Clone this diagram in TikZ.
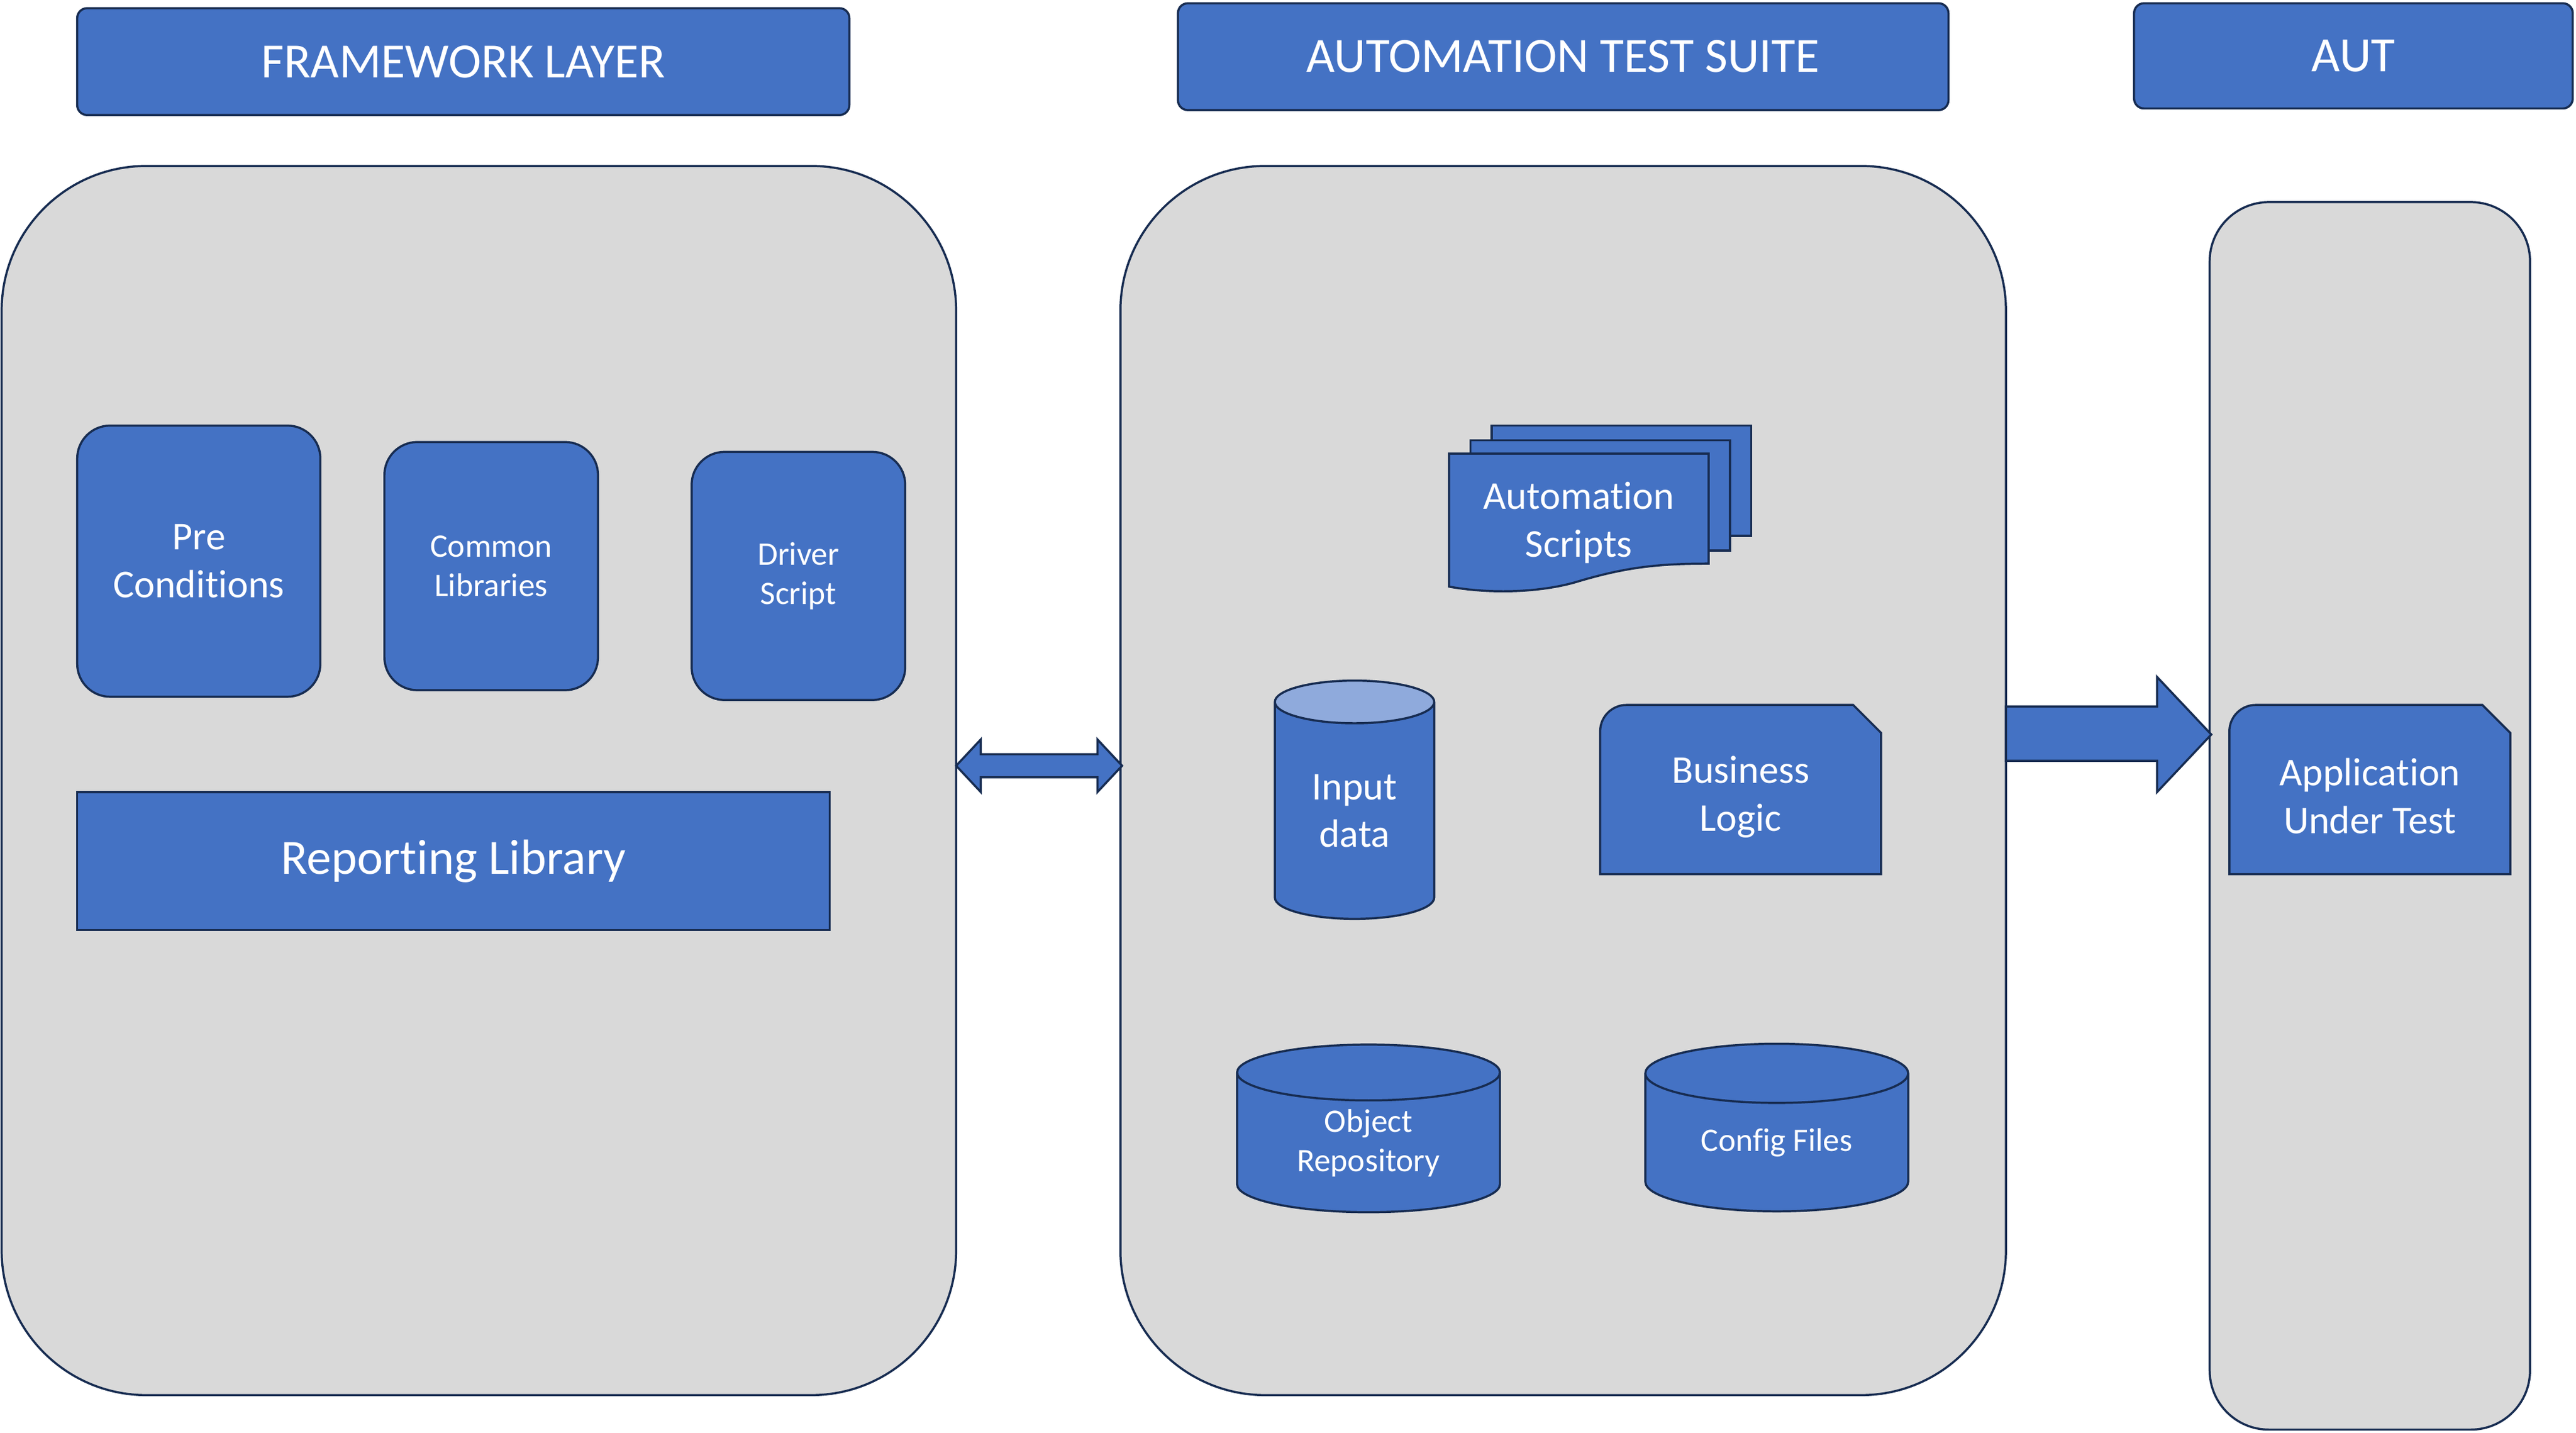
\documentclass[tikz,border=0pt]{standalone}
\usepackage{fontspec}
\setmainfont{Carlito}[Ligatures=NoCommon]
\usepackage{xcolor}
\usetikzlibrary{shapes.geometric}
\definecolor{accent}{HTML}{4472C4}
\definecolor{navy}{HTML}{172C51}
\definecolor{panelgray}{HTML}{D9D9D9}
\definecolor{accentlight}{HTML}{8FAADC}

\begin{document}
\begin{tikzpicture}[x=1pt,y=-1pt,
title/.style={draw=navy,fill=accent,line width=1.3pt,rounded corners=6pt,text=white,font=\fontsize{30}{36}\selectfont},
panel/.style={draw=navy,fill=panelgray,line width=1.3pt},
block/.style={draw=navy,fill=accent,line width=1.3pt,rounded corners=20pt,text=white,align=center},
blockpath/.style={draw=navy,fill=accent,line width=1.3pt},
txt/.style={text=white,align=center,font=\fontsize{24}{29}\selectfont},
store/.style={cylinder,shape border rotate=90,draw=navy,fill=accent,line width=1.3pt,text=white,align=center,font=\fontsize{20}{24}\selectfont}]
\tikzstyle{every node}=[inner sep=0pt]
\useasboundingbox[fill=white] (0,0) rectangle (1568,872);
\node[title,minimum width=470,minimum height=65] (fwtitle) at (282,37.5) {FRAMEWORK LAYER};
\node[title,minimum width=469,minimum height=65] (suitetitle) at (951.5,34.5) {AUTOMATION TEST SUITE};
\node[title,minimum width=267,minimum height=64] (auttitle) at (1432.5,34) {AUT};
\node[panel,minimum width=581,minimum height=748,rounded corners=88] (fwpanel) at (291.5,475) {};
\node[panel,minimum width=539,minimum height=748,rounded corners=88] (suitepanel) at (951.5,475) {};
\node[panel,minimum width=195,minimum height=747,rounded corners=36] (autpanel) at (1442.5,496.5) {};
\node[block,minimum width=148,minimum height=165,font=\fontsize{24}{29}\selectfont] (pre) at (121,341.5) {Pre\\Conditions};
\node[block,minimum width=130,minimum height=151,font=\fontsize{20}{24}\selectfont] (common) at (299,344.5) {Common\\Libraries};
\node[block,minimum width=130,minimum height=151,font=\fontsize{20}{24}\selectfont] (driver) at (486,350.5) {Driver\\Script};
\node[block,rounded corners=0pt,minimum width=458,minimum height=84,font=\fontsize{30}{36}\selectfont] (report) at (276,524) {Reporting Library};
\draw[blockpath] (582,466) -- (597,450) -- (597,459) -- (668,459) -- (668,450) -- (683,466) -- (668,482) -- (668,473) -- (597,473) -- (597,482) -- cycle;
\draw[blockpath] (1221,430) -- (1313,430) -- (1313,412) -- (1346,447) -- (1313,482) -- (1313,463) -- (1221,463) -- cycle;
\draw[blockpath] (908,259) rectangle (1066,326);
\draw[blockpath] (895,268) rectangle (1053,335);
\draw[blockpath] (882,276) -- (1040,276) -- (1040,343) .. controls (1010,343) and (990,345) .. (960,354) .. controls (940,360) and (910,362) .. (882,357) -- cycle;
\node[txt] (scripts) at (961,318) {Automation\\Scripts};
\draw[blockpath] (974,532) -- (974,445) .. controls (974,436.2) and (981.2,429) .. (990,429) -- (1128,429) -- (1145,446) -- (1145,532) -- cycle;
\node[txt] (logic) at (1059.5,485) {Business\\Logic};
\draw[blockpath] (1357,532) -- (1357,445) .. controls (1357,436.2) and (1364.2,429) .. (1373,429) -- (1511,429) -- (1528,446) -- (1528,532) -- cycle;
\node[txt] (app) at (1442.5,484.5) {Application\\Under Test};
\node[store,fill=none,cylinder uses custom fill,cylinder body fill=accent,cylinder end fill=accentlight,minimum width=97,minimum height=145,aspect=0.5,font=\fontsize{24}{29}\selectfont] (input) at (824.5,493.5) {Input\\data};
\node[store,minimum width=160,minimum height=102,aspect=0.39] (objrepo) at (833,695.5) {Object\\Repository};
\node[store,minimum width=160,minimum height=102,aspect=0.39] (config) at (1081.5,695.5) {Config Files};
\end{tikzpicture}
\end{document}
